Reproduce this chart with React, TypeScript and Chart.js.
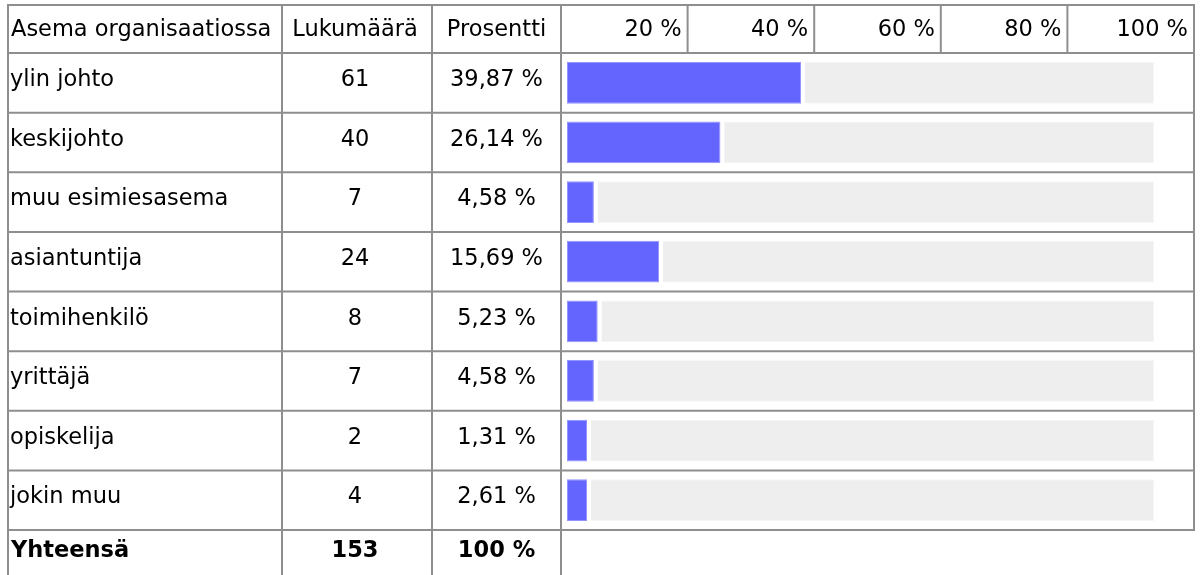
import React, { useEffect, useRef } from "react";
import { Chart, registerables } from "chart.js";

Chart.register(...registerables);

const categories = [
  "ylin johto",
  "keskijohto",
  "muu esimiesasema",
  "asiantuntija",
  "toimihenkilö",
  "yrittäjä",
  "opiskelija",
  "jokin muu",
];
const counts = [61, 40, 7, 24, 8, 7, 2, 4];
const percents = [39.87, 26.14, 4.58, 15.69, 5.23, 4.58, 1.31, 2.61];
const percentLabels = ["39,87 %", "26,14 %", "4,58 %", "15,69 %", "5,23 %", "4,58 %", "1,31 %", "2,61 %"];
const headers = ["Asema organisaatiossa", "Lukumäärä", "Prosentti"];
const tickLabels = ["20 %", "40 %", "60 %", "80 %", "100 %"];
const totalLabels = ["Yhteensä", "153", "100 %"];
const fullScale = [100, 100, 100, 100, 100, 100, 100, 100];

const W = 1202;
const H = 575;
const FONT = '"DejaVu Sans", Verdana, sans-serif';
const GRID = "#8e8e8e";

// table geometry
const X_LEFT = 8;
const X_C1 = 282;
const X_C2 = 432;
const X_C3 = 561;
const X_RIGHT = 1194;
const Y_TOP = 5;
const Y_HEAD = 53;
const Y_BOTTOM = 530;

const tablePlugin = {
  id: "tablePlugin",
  afterDraw(chart: any) {
    const ctx = chart.ctx as CanvasRenderingContext2D;
    const area = chart.chartArea;
    const n = categories.length;
    const rowH = (area.bottom - area.top) / n;
    ctx.save();
    ctx.strokeStyle = GRID;
    ctx.lineWidth = 2;
    const hline = (y: number, x1: number, x2: number) => {
      ctx.beginPath();
      ctx.moveTo(x1, y);
      ctx.lineTo(x2, y);
      ctx.stroke();
    };
    const vline = (x: number, y1: number, y2: number) => {
      ctx.beginPath();
      ctx.moveTo(x, y1);
      ctx.lineTo(x, y2);
      ctx.stroke();
    };
    hline(Y_TOP, X_LEFT - 1, X_RIGHT + 1);
    hline(Y_HEAD, X_LEFT - 1, X_RIGHT + 1);
    for (let i = 1; i <= n; i++) {
      hline(area.top + rowH * i, X_LEFT - 1, X_RIGHT + 1);
    }
    vline(X_LEFT, Y_TOP - 1, H);
    vline(X_C1, Y_TOP - 1, H);
    vline(X_C2, Y_TOP - 1, H);
    vline(X_C3, Y_TOP - 1, H);
    vline(X_RIGHT, Y_TOP - 1, area.bottom + 1);
    const tickW = (X_RIGHT - X_C3) / tickLabels.length;
    for (let i = 1; i < tickLabels.length; i++) {
      vline(X_C3 + tickW * i, Y_TOP, Y_HEAD);
    }

    ctx.fillStyle = "#000";
    ctx.textBaseline = "alphabetic";
    ctx.font = `22.5px ${FONT}`;
    const c1 = (X_C1 + X_C2) / 2 - 2;
    const c2 = (X_C2 + X_C3) / 2;
    const headBase = Y_TOP + 31;
    ctx.textAlign = "left";
    ctx.fillText(headers[0], X_LEFT + 3, headBase);
    ctx.textAlign = "center";
    ctx.fillText(headers[1], c1, headBase);
    ctx.fillText(headers[2], c2, headBase);
    ctx.textAlign = "right";
    tickLabels.forEach((t, i) => {
      ctx.fillText(t, X_C3 + tickW * (i + 1) - 6, headBase);
    });

    for (let i = 0; i < n; i++) {
      const base = area.top + rowH * i + 33;
      ctx.textAlign = "left";
      ctx.fillText(categories[i], X_LEFT + 2, base);
      ctx.textAlign = "center";
      ctx.fillText(String(counts[i]), c1, base);
      ctx.fillText(percentLabels[i], c2, base);
    }
    ctx.font = `bold 22.5px ${FONT}`;
    const tb = area.bottom + 27;
    ctx.textAlign = "left";
    ctx.fillText(totalLabels[0], X_LEFT + 3, tb);
    ctx.textAlign = "center";
    ctx.fillText(totalLabels[1], c1, tb);
    ctx.fillText(totalLabels[2], c2, tb);
    ctx.restore();
  },
};

export default function App() {
  const ref = useRef<HTMLCanvasElement | null>(null);
  useEffect(() => {
    if (!ref.current) return;
    const chart = new Chart(ref.current, {
      type: "bar",
      data: {
        labels: categories,
        datasets: [
          {
            // answer share
            data: percents,
            backgroundColor: "#6464ff",
            borderColor: "#9494ff",
            borderWidth: 1,
            borderSkipped: false,
            minBarLength: 20,
            order: 1,
          },
          {
            // white gap after the bar
            data: percents,
            backgroundColor: "#ffffff",
            borderWidth: 0,
            minBarLength: 20,
            inflateAmount: 4,
            order: 2,
          },
          {
            // grey track for the full 100 %
            data: fullScale,
            backgroundColor: "#eeeeee",
            borderColor: "#f6f6f6",
            borderWidth: 1,
            borderSkipped: false,
            order: 3,
          },
        ],
      },
      options: {
        indexAxis: "y",
        responsive: false,
        animation: false,
        devicePixelRatio: 1,
        events: [],
        layout: { padding: { left: 567, right: W - 1154, top: Y_HEAD, bottom: H - Y_BOTTOM } },
        datasets: { bar: { categoryPercentage: 1, barPercentage: 0.7, grouped: false } },
        scales: {
          x: { min: 0, max: 100, display: false },
          y: { display: false },
        },
        plugins: { legend: { display: false }, tooltip: { enabled: false } },
      },
      plugins: [tablePlugin],
    } as any);
    return () => chart.destroy();
  }, []);
  return (
    <div style={{ position: "absolute", left: 0, top: 0, width: W, height: H, background: "#fff" }}>
      <canvas ref={ref} width={W} height={H} style={{ width: W, height: H, display: "block" }} />
    </div>
  );
}
